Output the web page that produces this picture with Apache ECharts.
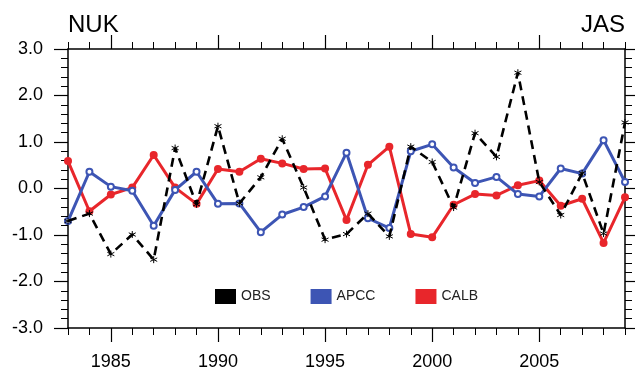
<!DOCTYPE html>
<html>
<head>
<meta charset="utf-8">
<script src="https://cdn.jsdelivr.net/npm/echarts@6/dist/echarts.min.js"></script>
<style>
  html, body { margin: 0; padding: 0; background: #fff; }
  #chart { width: 635px; height: 371px; }
</style>
</head>
<body>
<div id="chart"></div>
<script>
const years = [1983, 1984, 1985, 1986, 1987, 1988, 1989, 1990, 1991, 1992, 1993, 1994, 1995, 1996,
  1997, 1998, 1999, 2000, 2001, 2002, 2003, 2004, 2005, 2006, 2007, 2008, 2009];
const obs = [-0.70, -0.54, -1.41, -0.99, -1.53, 0.87, -0.34, 1.34, -0.32, 0.24, 1.07, 0.02, -1.10, -0.98,
  -0.54, -1.03, 0.90, 0.57, -0.41, 1.19, 0.68, 2.49, 0.14, -0.57, 0.33, -0.97, 1.42];
const apcc = [-0.70, 0.36, 0.04, -0.05, -0.80, -0.03, 0.36, -0.33, -0.32, -0.94, -0.56, -0.40, -0.17, 0.77,
  -0.64, -0.85, 0.80, 0.95, 0.45, 0.12, 0.25, -0.12, -0.17, 0.43, 0.32, 1.04, 0.14];
const calb = [0.59, -0.49, -0.13, 0.02, 0.72, 0.02, -0.33, 0.42, 0.36, 0.64, 0.54, 0.42, 0.43, -0.68,
  0.51, 0.90, -0.98, -1.05, -0.35, -0.12, -0.15, 0.07, 0.17, -0.37, -0.22, -1.17, -0.19];
const majorYears = [1985, 1990, 1995, 2000, 2005];

const font = "'Liberation Sans', Arial, sans-serif";
const pairs = (vals) => years.map((y, i) => [y, vals[i]]);

const chart = echarts.init(document.getElementById('chart'));

// one axis for the yearly ticks, one for the longer 5-year ticks, on each side
const xAxisBase = {
  type: 'value', min: 1983, max: 2009, interval: 1,
  splitLine: { show: false },
  axisLine: { show: true, onZero: false, lineStyle: { color: '#000', width: 1.5 } },
  axisTick: { show: true, length: 7, lineStyle: { color: '#000', width: 1 } },
  axisLabel: { show: false }
};
const xMajor = (pos) => ({
  type: 'value', min: 1983, max: 2009, position: pos,
  splitLine: { show: false },
  axisLine: { show: false, onZero: false },
  axisTick: { show: true, length: 14, customValues: majorYears, lineStyle: { color: '#000', width: 1.2 } },
  axisLabel: { show: false }
});
const yAxisBase = (pos, labels) => ({
  type: 'value', min: -3, max: 3, interval: 1, position: pos,
  splitLine: { show: false },
  axisLine: { show: true, onZero: false, lineStyle: { color: '#000', width: 1.5 } },
  axisTick: { show: true, length: 14, lineStyle: { color: '#000', width: 1.2 } },
  minorTick: { show: true, splitNumber: 5, length: 7, lineStyle: { color: '#000', width: 1 } },
  axisLabel: {
    show: labels, margin: 25, color: '#000', fontSize: 18, fontFamily: font,
    formatter: (v) => v.toFixed(1)
  }
});

chart.setOption({
  backgroundColor: '#fff',
  animation: false,
  title: [
    { text: 'NUK', left: 68, top: 13, padding: 0, textStyle: { fontSize: 24, fontWeight: 'normal', color: '#000', fontFamily: font } },
    { text: 'JAS', right: 10, top: 13, padding: 0, textStyle: { fontSize: 24, fontWeight: 'normal', color: '#000', fontFamily: font } }
  ],
  grid: { left: 68, right: 10, top: 49, bottom: 43 },
  legend: {
    top: 284, left: 210, icon: 'rect', itemWidth: 21, itemHeight: 15, itemGap: 40,
    textStyle: { fontSize: 14, color: '#222', fontFamily: font },
    data: [
      { name: 'OBS', itemStyle: { color: '#000', borderWidth: 0 } },
      { name: 'APCC', itemStyle: { color: '#3d55b4', borderWidth: 0 } },
      { name: 'CALB', itemStyle: { color: '#e8262b', borderWidth: 0 } }
    ]
  },
  xAxis: [
    Object.assign({}, xAxisBase, {
      position: 'bottom',
      axisLabel: {
        show: true, customValues: majorYears, margin: 25, color: '#000', fontSize: 18, fontFamily: font,
        formatter: (v) => String(v)
      }
    }),
    xMajor('bottom'),
    Object.assign({}, xAxisBase, { position: 'top' }),
    xMajor('top')
  ],
  yAxis: [yAxisBase('left', true), yAxisBase('right', false)],
  series: [
    {
      name: 'OBS', type: 'line', data: pairs(obs),
      color: '#000',
      symbol: 'path://M0,-5L0,5M-4.3,-2.5L4.3,2.5M-4.3,2.5L4.3,-2.5', symbolSize: 7,
      itemStyle: { color: '#000', borderColor: '#000', borderWidth: 1 },
      lineStyle: { color: '#000', width: 2.6, type: [9, 6] },
      z: 4
    },
    {
      name: 'APCC', type: 'line', data: pairs(apcc),
      color: '#3d55b4',
      symbol: 'emptyCircle', symbolSize: 6,
      itemStyle: { color: '#3d55b4', borderColor: '#6f82d0', borderWidth: 1.5 },
      lineStyle: { color: '#3d55b4', width: 3 },
      z: 3
    },
    {
      name: 'CALB', type: 'line', data: pairs(calb),
      color: '#e8262b',
      symbol: 'circle', symbolSize: 8,
      itemStyle: { color: '#e8262b' },
      lineStyle: { color: '#e8262b', width: 3 },
      z: 2
    }
  ]
});
</script>
</body>
</html>
